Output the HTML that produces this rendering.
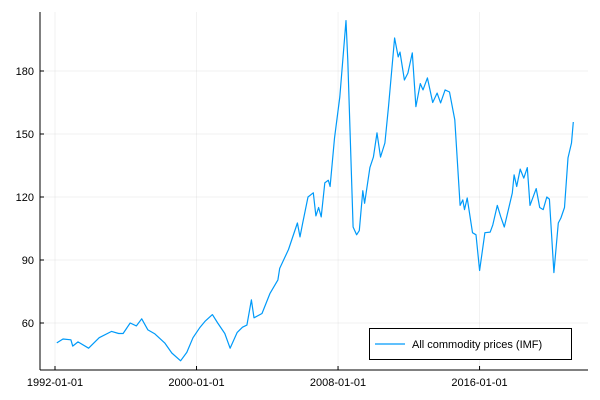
<!DOCTYPE html>
<html><head><meta charset="utf-8"><style>
body{margin:0;background:#fff}
svg{display:block;font-family:"Liberation Sans",sans-serif}
</style></head><body>
<svg id="chart" width="600" height="400" xmlns="http://www.w3.org/2000/svg">
<g id="grid"></g>
<g id="axes"></g>
<path id="series" fill="none" stroke="#009af9" stroke-width="1.2" stroke-linejoin="round"/>
<g>
<rect x="369.5" y="328.5" width="202" height="31" fill="#fff" stroke="#000" stroke-width="1"/>
<line x1="375" y1="344" x2="405" y2="344" stroke="#009af9" stroke-width="1.2"/>
<text x="412" y="348" font-size="11">All commodity prices (IMF)</text>
</g>
</svg>
<script>
const years=[1992.1,1992.45,1992.9,1993.0,1993.3,1993.9,1994.5,1995.2,1995.6,1995.85,1996.25,1996.6,1996.9,1997.25,1997.65,1998.2,1998.6,1999.1,1999.45,1999.8,2000.2,2000.5,2000.9,2001.2,2001.6,2001.9,2002.3,2002.6,2002.85,2003.1,2003.25,2003.7,2004.15,2004.6,2004.7,2005.2,2005.7,2005.85,2006.0,2006.3,2006.6,2006.75,2006.9,2007.05,2007.25,2007.45,2007.55,2007.8,2008.1,2008.45,2008.55,2008.85,2009.05,2009.2,2009.4,2009.5,2009.8,2010.0,2010.2,2010.4,2010.65,2010.85,2011.2,2011.4,2011.5,2011.75,2011.95,2012.2,2012.4,2012.65,2012.8,2013.05,2013.35,2013.6,2013.8,2014.05,2014.3,2014.6,2014.9,2015.05,2015.15,2015.3,2015.6,2015.8,2016.0,2016.3,2016.6,2016.75,2017.0,2017.2,2017.4,2017.85,2017.95,2018.1,2018.3,2018.5,2018.7,2018.85,2019.2,2019.4,2019.6,2019.8,2019.95,2020.2,2020.45,2020.6,2020.8,2021.0,2021.2,2021.3];
const values=[50.5,52.4,52,49,51,48,53,56,55,55,60,58.6,62,56.7,54.8,50.5,45.7,42,46,53,58,61,64,60,55,48,55.5,58,59,71,62.5,64.5,74,80.5,86,95,107.6,101,107.6,120,122,111,115,110.5,126.7,128,125,148,167.6,204,185,105.7,102,104,123,117,134,139,150.5,139,145.7,163,195.7,186.7,189,175.7,179,188.6,163,174,171,176.7,165,169.5,164.8,171,170,156.7,116,118.6,114,119.5,103,102,85,103,103.3,106.7,116,110.5,105.7,121.9,130.5,125,133.3,129,134,116,124,115,114,120,119,84,107.6,110,115,138.6,145.7,155.7];
const yTicks=[60,90,120,150,180];
const xTickYears=[1992,2000,2008,2016];
const xTickLabels=["1992-01-01","2000-01-01","2008-01-01","2016-01-01"];
const L=40,R=588,T=12,B=370;
const X=y=>55+(y-1992)*17.69;
const Y=v=>449-v*2.1;
const NS="http://www.w3.org/2000/svg";
const grid=document.getElementById('grid'),axes=document.getElementById('axes');
function mk(tag,attrs,parent){const e=document.createElementNS(NS,tag);for(const k in attrs)e.setAttribute(k,attrs[k]);parent.appendChild(e);return e;}
yTicks.forEach(v=>{
 const g=mk('line',{x1:L,x2:R,y1:Y(v),y2:Y(v),stroke:'#000','stroke-opacity':0.1,'stroke-width':0.5},grid);
 
 
 const t=mk('line',{x1:L,x2:L+4,y1:Y(v),y2:Y(v),stroke:'#000'},axes);
 
 
 const tx=mk('text',{x:L-6,y:Y(v)+4,'font-size':11,'text-anchor':'end'},axes);tx.textContent=v;
 
 
});
xTickYears.forEach((yr,i)=>{
 const g=mk('line',{x1:X(yr),x2:X(yr),y1:T,y2:B,stroke:'#000','stroke-opacity':0.1,'stroke-width':0.5},grid);
 
 
 const t=mk('line',{x1:X(yr),x2:X(yr),y1:B,y2:B-4,stroke:'#000'},axes);
 
 
 const tx=mk('text',{x:X(yr),y:B+16,'font-size':11,'text-anchor':'middle'},axes);tx.textContent=xTickLabels[i];
 
 
});
const ya=mk('line',{x1:L,x2:L,y1:T,y2:B,stroke:'#000'},axes);


const xa=mk('line',{x1:L,x2:R,y1:B,y2:B,stroke:'#000'},axes);


document.getElementById('series').setAttribute('d',years.map((y,i)=>(i?'L':'M')+X(y).toFixed(1)+','+Y(values[i]).toFixed(1)).join(''));
</script>
</body></html>
